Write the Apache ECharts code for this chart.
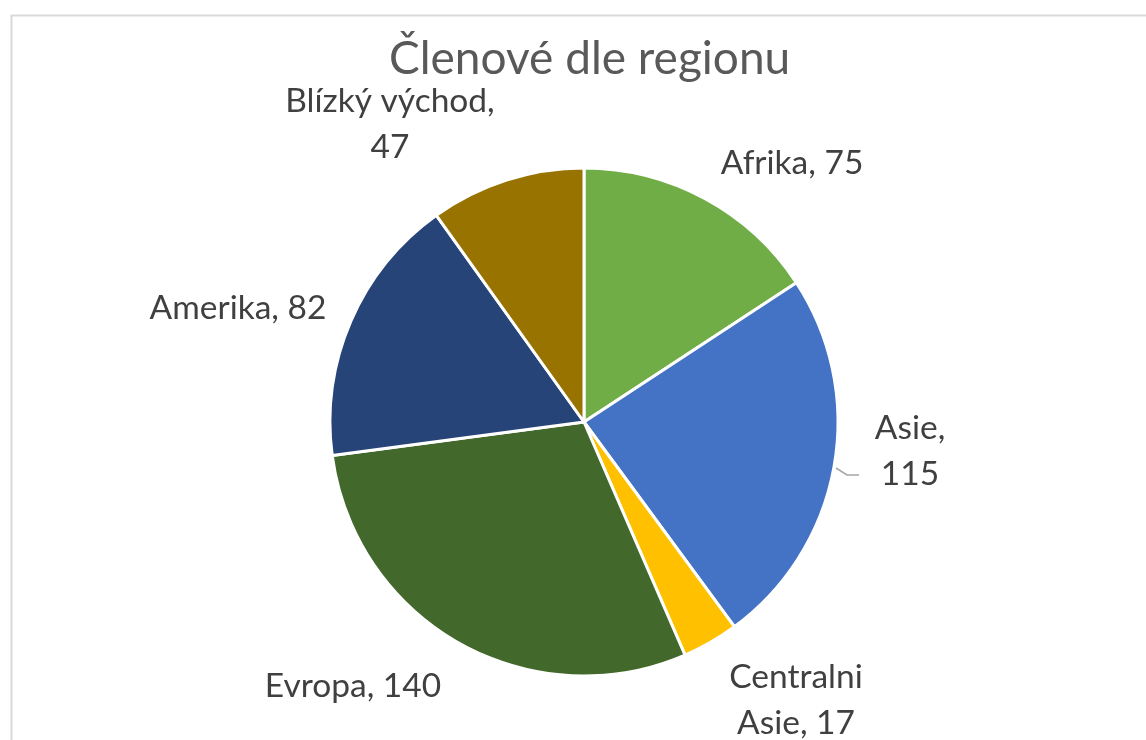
<!DOCTYPE html>
<html>
<head>
<meta charset="utf-8">
<script src="https://cdn.jsdelivr.net/npm/echarts@6/dist/echarts.min.js"></script>
<style>html,body{margin:0;padding:0;background:#fff;}#c{width:1146px;height:740px;}</style>
</head>
<body>
<div id="c"></div>
<script>
const titleText = 'Členové dle regionu';
const categories = ['Afrika', 'Asie', 'Centralni Asie', 'Evropa', 'Amerika', 'Blízký východ'];
const values = [75, 115, 17, 140, 82, 47];
const colors = ['#70AD47', '#4472C4', '#FFC000', '#43682B', '#264478', '#997300'];
// label text variants (line breaks as in the reference)
const labelTexts = ['Afrika, 75', 'Asie,\n115', 'Centralni\nAsie, 17', 'Evropa, 140', 'Amerika, 82', 'Blízký východ,\n47'];
// label anchor points (label placement only)
const labelPos = [[792, 163], [910, 451], [796, 700], [353, 686], [238, 308], [390, 124]];

const FONT = 'Lato, "Open Sans", sans-serif';
const chart = echarts.init(document.getElementById('c'));
chart.setOption({
  backgroundColor: '#fff',
  animation: false,
  title: {
    text: titleText, left: 384, top: 31,
    textStyle: { fontFamily: FONT, fontSize: 46, fontWeight: 'normal', color: '#595959' }
  },
  graphic: [{
    type: 'rect', left: 9, top: 13, shape: { width: 1200, height: 800 },
    style: { fill: 'none', stroke: '#d9d9d9', lineWidth: 2 }, silent: true
  }],
  series: [{
    type: 'pie',
    center: [584, 422],
    radius: 254,
    startAngle: 90,
    clockwise: true,
    itemStyle: { borderColor: '#fff', borderWidth: 3 },
    label: {
      show: true, position: 'outside',
      fontFamily: FONT, fontSize: 33.5, color: '#404040', lineHeight: 46,
      formatter: p => labelTexts[p.dataIndex]
    },
    labelLine: { show: false },
    labelLayout: p => {
      const r = { x: labelPos[p.dataIndex][0], y: labelPos[p.dataIndex][1], align: 'center', verticalAlign: 'middle' };
      if (p.dataIndex === 1) r.labelLinePoints = [[836, 468], [847, 475], [859, 475]];
      return r;
    },
    data: categories.map((c, i) => ({
      name: c, value: values[i], itemStyle: { color: colors[i] },
      labelLine: i === 1 ? { show: true, length: 8, length2: 14, lineStyle: { color: '#a6a6a6', width: 1.5 } } : undefined
    }))
  }]
});
</script>
</body>
</html>
